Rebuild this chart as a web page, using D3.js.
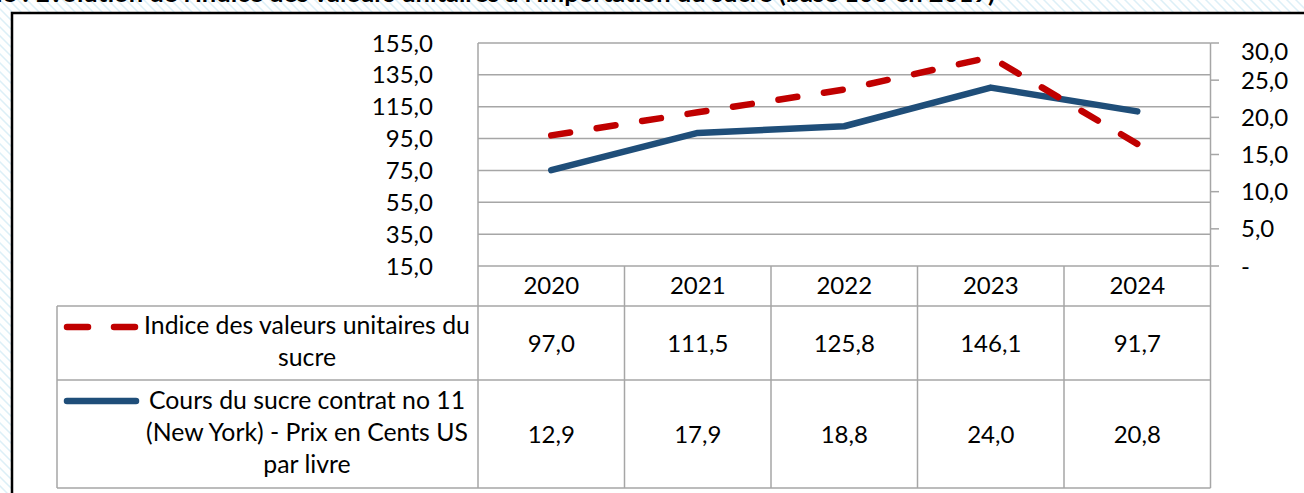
<!DOCTYPE html>
<html>
<head>
<meta charset="utf-8">
<script src="https://cdn.jsdelivr.net/npm/d3@7"></script>
<style>
  html, body { margin: 0; padding: 0; background: #fff; }
  svg { display: block; font-family: Lato, "Liberation Sans", sans-serif; }
</style>
</head>
<body>
<svg id="chart" width="1304" height="493"></svg>
<script>
// ---- data ----
const years = ["2020", "2021", "2022", "2023", "2024"];
const indiceValues = [97.0, 111.5, 125.8, 146.1, 91.7];
const coursValues = [12.9, 17.9, 18.8, 24.0, 20.8];
const indiceLabels = ["97,0", "111,5", "125,8", "146,1", "91,7"];
const coursLabels = ["12,9", "17,9", "18,8", "24,0", "20,8"];
const leftTicks = [15, 35, 55, 75, 95, 115, 135, 155];
const rightTicks = [0, 5, 10, 15, 20, 25, 30];
const seriesNames = [
  ["Indice des valeurs unitaires du", "sucre"],
  ["Cours du sucre contrat no 11", "(New York) - Prix en Cents US", "par livre"]
];
const titleText = "Graphique : Evolution de l'indice des valeurs unitaires à l'importation du sucre (base 100 en 2019)";

// ---- layout ----
const W = 1304, H = 493;
const plotL = 478, plotR = 1210.5, plotT = 43, plotB = 266;
const tableL = 57;
const rowY = [266, 306, 380, 488];
const fs = 24;
const gridColor = "#a6a6a6";
const red = "#c00000", blue = "#1f4e79";

const svg = d3.select("#chart");

// background hatch
const defs = svg.append("defs");
const pat = defs.append("pattern").attr("id", "hatch").attr("patternUnits", "userSpaceOnUse")
  .attr("width", 9).attr("height", 9);
pat.append("rect").attr("width", 9).attr("height", 9).attr("fill", "#ffffff");
pat.append("path").attr("d", "M-1,-1 L10,10 M-1,8 L1,10 M8,-1 L10,1")
  .attr("stroke", "#dceff7").attr("stroke-width", 1.5);
svg.append("rect").attr("width", W).attr("height", H).attr("fill", "url(#hatch)");

// title (cut at top)
svg.append("text").attr("x", 995).attr("y", 1.5).attr("text-anchor", "end")
  .attr("font-weight", "bold").attr("font-size", 25.5).attr("fill", "#000").text(titleText);

// chart box
svg.append("rect").attr("x", 12).attr("y", 13).attr("width", W + 20).attr("height", H + 20)
  .attr("fill", "#fff").attr("stroke", "#000").attr("stroke-width", 2.5);

// scales
const x = d3.scaleBand().domain(years).range([plotL, plotR]).padding(0);
const yL = d3.scaleLinear().domain([15, 155]).range([plotB, plotT]);
const yR = d3.scaleLinear().domain([0, 30]).range([plotB, plotT]);
const cx = d => x(d) + x.bandwidth() / 2;

// gridlines (left axis)
svg.append("g").selectAll("line").data(leftTicks).join("line")
  .attr("x1", plotL).attr("x2", plotR)
  .attr("y1", d => yL(d)).attr("y2", d => yL(d))
  .attr("stroke", gridColor).attr("stroke-width", 1.5);

// left axis labels
const fmt = v => d3.format(".1f")(v).replace(".", ",");
svg.append("g").selectAll("text").data(leftTicks).join("text")
  .attr("x", 433).attr("y", d => yL(d)).attr("dy", "0.36em")
  .attr("text-anchor", "end").attr("font-size", fs).attr("fill", "#000")
  .text(d => fmt(d));

// right axis ticks
svg.append("g").selectAll("line").data(rightTicks).join("line")
  .attr("x1", plotR).attr("x2", plotR + 8.5)
  .attr("y1", d => yR(d)).attr("y2", d => yR(d))
  .attr("stroke", gridColor).attr("stroke-width", 1.5);
svg.append("g").selectAll("text").data(rightTicks).join("text")
  .attr("x", 1241).attr("y", d => yR(d))
  .attr("dy", d => d === 30 ? "0.7em" : "0.36em")
  .attr("text-anchor", "start").attr("font-size", fs).attr("fill", "#000")
  .text(d => d === 0 ? "-" : fmt(d));

// table grid
const tg = svg.append("g").attr("stroke", gridColor).attr("stroke-width", 1.5);
tg.append("line").attr("x1", plotL).attr("x2", plotL).attr("y1", plotT).attr("y2", rowY[3]);
tg.append("line").attr("x1", plotR).attr("x2", plotR).attr("y1", plotT).attr("y2", rowY[3]);
tg.append("line").attr("x1", tableL).attr("x2", tableL).attr("y1", rowY[1]).attr("y2", rowY[3]);
tg.selectAll(".col").data(years.slice(1)).join("line").attr("class", "col")
  .attr("x1", d => x(d)).attr("x2", d => x(d)).attr("y1", rowY[0]).attr("y2", rowY[3]);
tg.selectAll(".row").data(rowY.slice(1)).join("line").attr("class", "row")
  .attr("x1", tableL).attr("x2", plotR).attr("y1", d => d).attr("y2", d => d);

// header years
svg.append("g").selectAll("text").data(years).join("text")
  .attr("x", d => cx(d)).attr("y", 294).attr("text-anchor", "middle")
  .attr("font-size", fs).attr("fill", "#000").text(d => d);

// table values
svg.append("g").selectAll("text").data(indiceLabels).join("text")
  .attr("x", (d, i) => cx(years[i])).attr("y", 351.5).attr("text-anchor", "middle")
  .attr("font-size", fs).attr("fill", "#000").text(d => d);
svg.append("g").selectAll("text").data(coursLabels).join("text")
  .attr("x", (d, i) => cx(years[i])).attr("y", 442.5).attr("text-anchor", "middle")
  .attr("font-size", fs).attr("fill", "#000").text(d => d);

// legend keys + names
svg.append("line").attr("x1", 67).attr("x2", 136).attr("y1", 327).attr("y2", 327)
  .attr("stroke", red).attr("stroke-width", 6.5).attr("stroke-linecap", "round")
  .attr("stroke-dasharray", "21,26");
svg.append("line").attr("x1", 67).attr("x2", 136).attr("y1", 401).attr("y2", 401)
  .attr("stroke", blue).attr("stroke-width", 6.5).attr("stroke-linecap", "round");
const nameBase = [[334, 366], [409, 441, 473]];
seriesNames.forEach((lines, si) => {
  svg.append("g").selectAll("text").data(lines).join("text")
    .attr("x", 307).attr("y", (d, i) => nameBase[si][i]).attr("text-anchor", "middle")
    .attr("font-size", 24.8).attr("fill", "#000").text(d => d);
});

// lines
const lineL = d3.line().x((d, i) => cx(years[i])).y(d => yL(d));
const lineR = d3.line().x((d, i) => cx(years[i])).y(d => yR(d));
svg.append("path").datum(coursValues).attr("d", lineR)
  .attr("fill", "none").attr("stroke", blue).attr("stroke-width", 6.5)
  .attr("stroke-linejoin", "round").attr("stroke-linecap", "round");
svg.append("path").datum(indiceValues).attr("d", lineL)
  .attr("fill", "none").attr("stroke", red).attr("stroke-width", 6.5)
  .attr("stroke-linejoin", "round").attr("stroke-linecap", "round")
  .attr("stroke-dasharray", "19,27");
</script>
</body>
</html>
